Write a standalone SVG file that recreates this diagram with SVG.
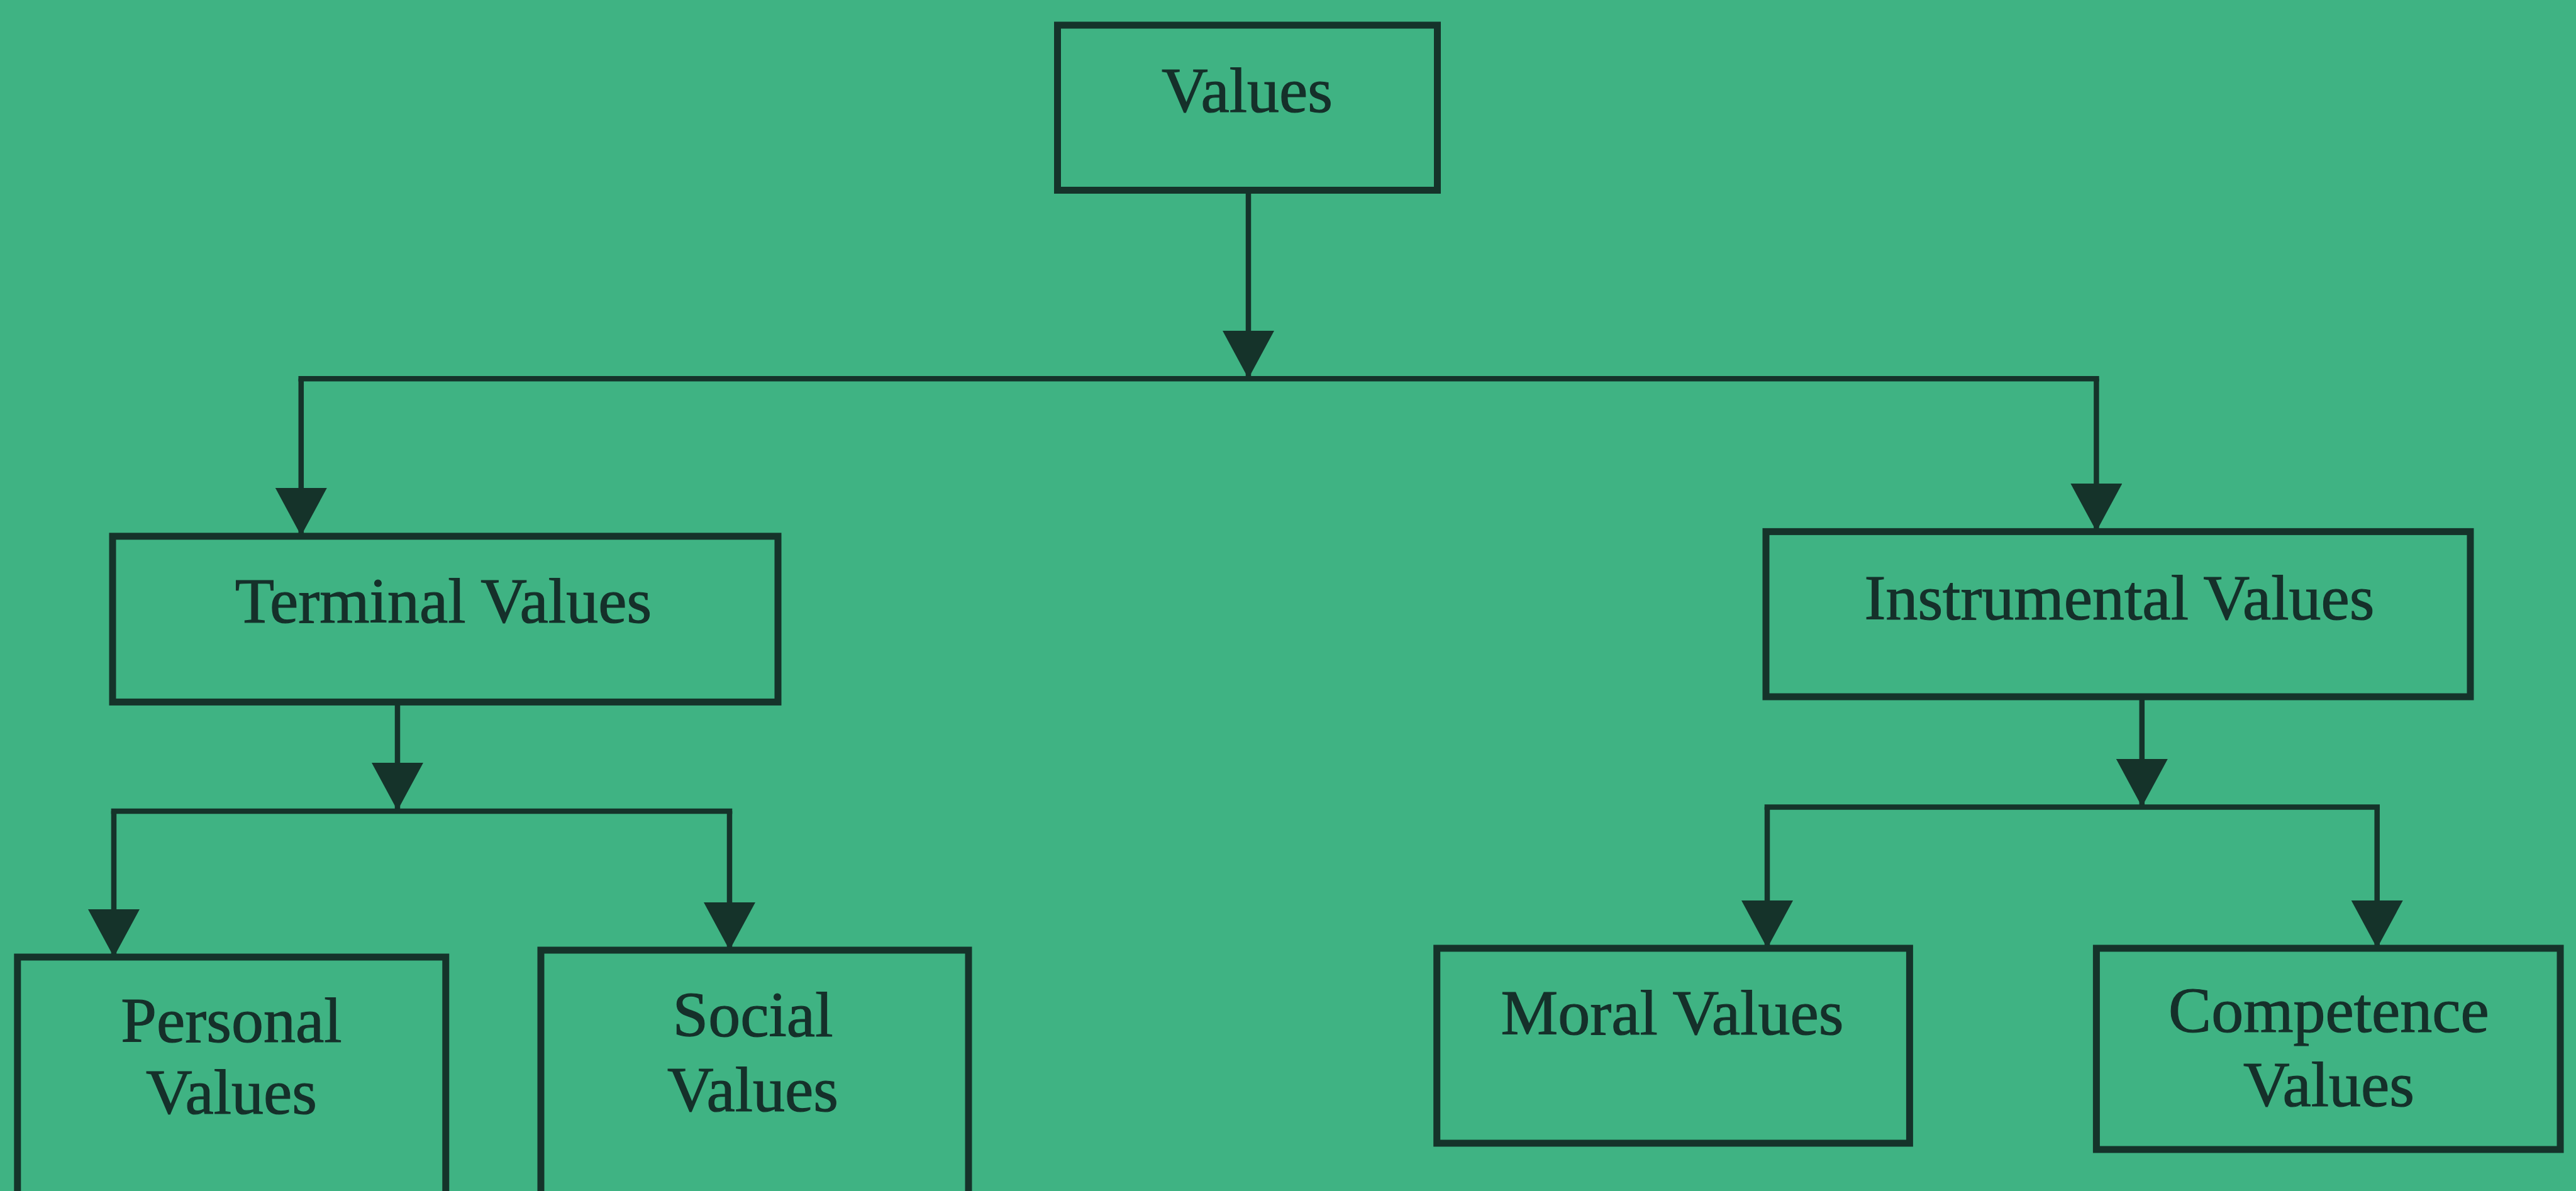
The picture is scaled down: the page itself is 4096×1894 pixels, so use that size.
<svg xmlns="http://www.w3.org/2000/svg" width="4096" height="1894" viewBox="0 0 4096 1894">
<style>
.box{fill:none;stroke:#15332a;stroke-width:11}
.lbl{font-family:"Liberation Serif","Times New Roman",serif;font-size:102px;fill:#15302a;text-anchor:middle;stroke:#15302a;stroke-width:1.2}
.con{fill:none;stroke:#15332a;stroke-width:8.5}
</style>
<defs>
<marker id="arr" viewBox="0 0 76 82" refX="76" refY="41" markerWidth="76" markerHeight="82" markerUnits="userSpaceOnUse" orient="auto">
<path d="M0,0 L76,41 L0,82 z" fill="#15332a"/>
</marker>
</defs>
<rect x="0" y="0" width="4096" height="1894" fill="#3fb383"/>
<g id="connectors">
<line class="con" x1="1985" y1="302" x2="1985" y2="602" marker-end="url(#arr)"/>
<line class="con" x1="474.5" y1="602.3" x2="3337.7" y2="602.3"/>
<line class="con" x1="478.8" y1="602.3" x2="478.8" y2="852" marker-end="url(#arr)"/>
<line class="con" x1="3333.4" y1="602.3" x2="3333.4" y2="845" marker-end="url(#arr)"/>
<line class="con" x1="632" y1="1116" x2="632" y2="1289" marker-end="url(#arr)"/>
<line class="con" x1="176.7" y1="1290" x2="1164.3" y2="1290"/>
<line class="con" x1="181" y1="1290" x2="181" y2="1522" marker-end="url(#arr)"/>
<line class="con" x1="1160" y1="1290" x2="1160" y2="1511" marker-end="url(#arr)"/>
<line class="con" x1="3405.8" y1="1108" x2="3405.8" y2="1283" marker-end="url(#arr)"/>
<line class="con" x1="2805.7" y1="1283.4" x2="3784" y2="1283.4"/>
<line class="con" x1="2810" y1="1283.4" x2="2810" y2="1508" marker-end="url(#arr)"/>
<line class="con" x1="3779.7" y1="1283.4" x2="3779.7" y2="1508" marker-end="url(#arr)"/>
</g>
<g id="values">
<rect class="box" x="1681.5" y="40" width="604" height="262.5"/>
<text class="lbl" x="1983" y="178">Values</text>
</g>
<g id="terminal">
<rect class="box" x="179" y="852.8" width="1058" height="263.6"/>
<text class="lbl" x="705" y="990">Terminal Values</text>
</g>
<g id="instrumental">
<rect class="box" x="2808" y="845.4" width="1120" height="262.6"/>
<text class="lbl" x="3370" y="985">Instrumental Values</text>
</g>
<g id="personal">
<rect class="box" x="27.8" y="1522" width="681" height="420"/>
<text class="lbl" x="368" y="1657">Personal</text>
<text class="lbl" x="368" y="1771">Values</text>
</g>
<g id="social">
<rect class="box" x="860" y="1511" width="680" height="430"/>
<text class="lbl" x="1197" y="1648">Social</text>
<text class="lbl" x="1197" y="1767">Values</text>
</g>
<g id="moral">
<rect class="box" x="2284.7" y="1508" width="751.7" height="310"/>
<text class="lbl" x="2659" y="1645">Moral Values</text>
</g>
<g id="competence">
<rect class="box" x="3333.4" y="1508" width="737.6" height="320"/>
<text class="lbl" x="3703" y="1641">Competence</text>
<text class="lbl" x="3703" y="1759">Values</text>
</g>
</svg>
